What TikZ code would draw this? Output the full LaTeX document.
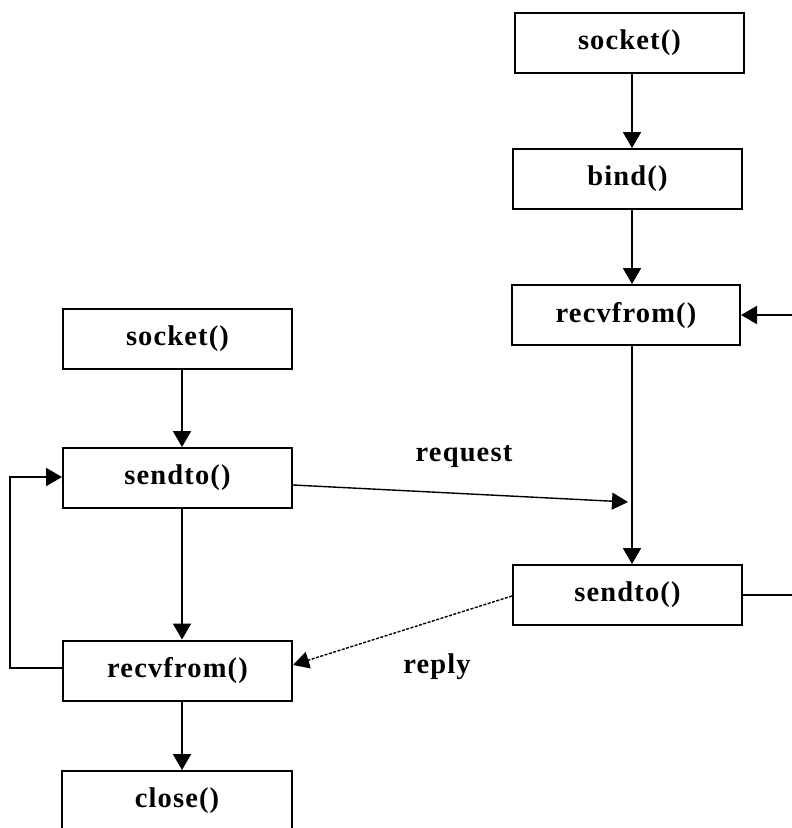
\documentclass[tikz,border=0pt]{standalone}
\usepackage{fontspec}
\setmainfont{Liberation Serif}[LetterSpace=4]
\usetikzlibrary{arrows.meta}
\begin{document}
\begin{tikzpicture}[x=1pt,y=-1pt,
  callbox/.style={draw, line width=2pt, minimum width=229pt, minimum height=60pt,
    inner sep=0pt, font=\fontsize{28.5}{31}\selectfont\bfseries},
  flow/.style={line width=2pt, -{Triangle[width=18pt,length=16pt]}},
  msg/.style={line width=1.4pt, -{Triangle[width=17pt,length=16pt]}},
  msglabel/.style={font=\fontsize{28.5}{31}\selectfont\bfseries, inner sep=0pt}]
  \clip (0,0) rectangle (792,828);
  \fill[white] (0,0) rectangle (792,828);

  % column guides for the vertical arrows
  \coordinate (rx) at (632,0);
  \coordinate (lx) at (182,0);

  % server column
  \node[callbox] (ssock) at (629.5,43) {socket()};
  \node[callbox] (sbind) at (627.5,179) {bind()};
  \node[callbox, minimum width=228pt] (srecv) at (626,315) {recvfrom()};
  \node[callbox] (ssend) at (627.5,595) {sendto()};

  % client column
  \node[callbox] (csock) at (177.5,339) {socket()};
  \node[callbox] (csend) at (177.5,478) {sendto()};
  \node[callbox] (crecv) at (177.5,670.5) {recvfrom()};
  \node[callbox, minimum width=230pt] (cclose) at (177,801) {close()};

  % server flow
  \draw[flow] (ssock.south -| rx) -- (sbind.north -| rx);
  \draw[flow] (sbind.south -| rx) -- (srecv.north -| rx);
  \draw[flow] (srecv.south -| rx) -- (ssend.north -| rx);
  \draw[flow] (ssend.east) -- ++(60,0) |- (srecv.east);

  % client flow
  \draw[flow] (csock.south -| lx) -- (csend.north -| lx);
  \draw[flow] (csend.south -| lx) -- (crecv.north -| lx);
  \draw[flow] (crecv.south -| lx) -- (cclose.north -| lx);
  \draw[flow] ([yshift=2.5pt]crecv.west) -- ++(-52,0) |- ([yshift=1pt]csend.west);

  % messages between client and server
  \coordinate (reqend) at (628,502);
  \draw[msg] ([yshift=-7pt]csend.east) -- (reqend);
  \draw[msg, dash pattern=on 3pt off 1.5pt] ([yshift=-1pt]ssend.west) -- ([yshift=5.5pt]crecv.east);
  \node[msglabel] (reqlbl) at (464,457) {request};
  \node[msglabel] (replbl) at (437,667) {reply};
\end{tikzpicture}
\end{document}
